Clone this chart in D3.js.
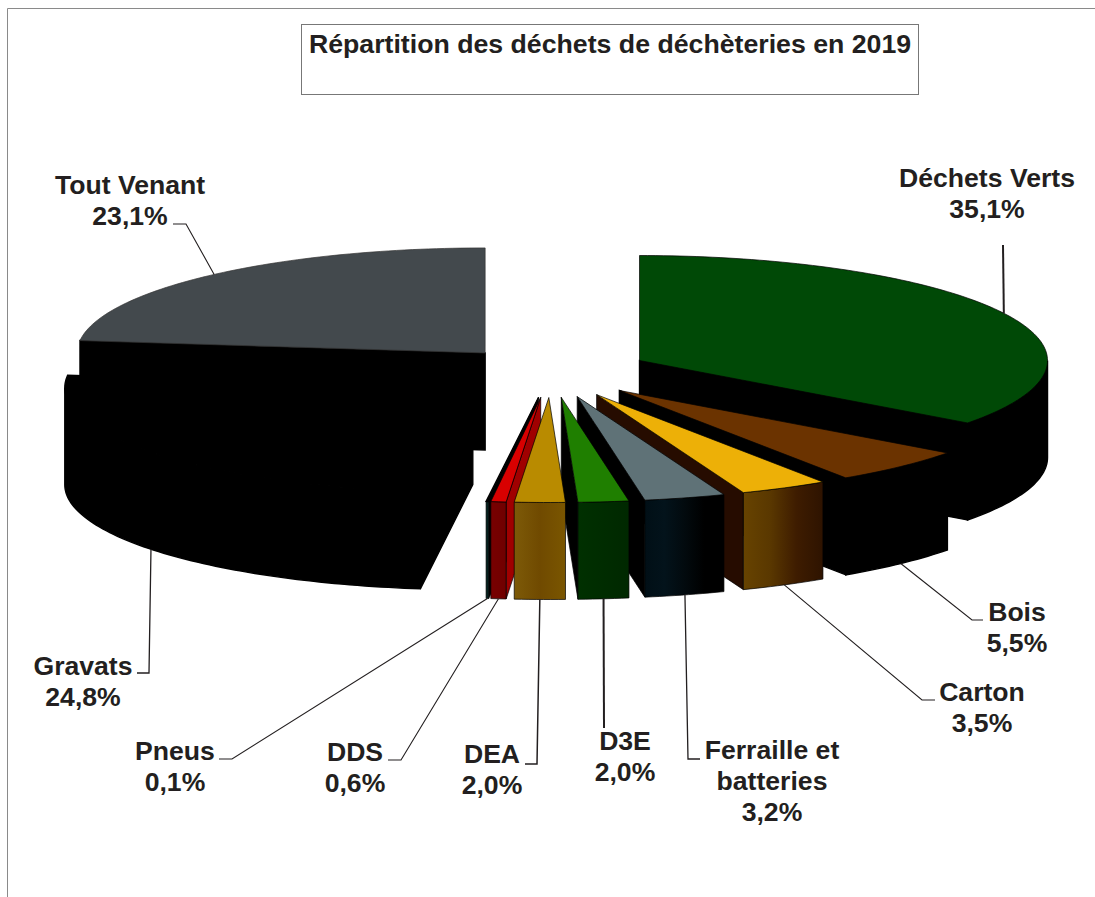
<!DOCTYPE html>
<html>
<head>
<meta charset="utf-8">
<script src="https://cdn.jsdelivr.net/npm/d3@7"></script>
<style>
    html, body { margin: 0; padding: 0; background: #fff; }
    svg { display: block; }
    text { font-family: "Liberation Sans", Arial, sans-serif; font-weight: bold; fill: #231f20; }
</style>
</head>
<body>
<div id="chart"></div>
<script>
const chartTitle = "Répartition des déchets de déchèteries en 2019";

const categories = ["Déchets Verts", "Bois", "Carton", "Ferraille et batteries", "D3E", "DEA", "DDS", "Pneus", "Gravats", "Tout Venant"];
const shares = [35.1, 5.5, 3.5, 3.2, 2.0, 2.0, 0.6, 0.1, 24.8, 23.1];

// top face, radial wall, outer wall gradient (left to right)
const topColors = ["#004906", "#6b3300", "#edb007", "#5f7277", "#1f7f00", "#b98b00", "#d80000", "#000000", "#000000", "#43494d"];
const wallColors = ["#000", "#000", "#260c00", "#000", "#000", "#000", "#a00000", "#000", "#000", "#000"];
const rimColors = [
    ["#000", "#000"], ["#000", "#000"], ["#674300", "#5a3800", "#3e1c00", "#2e1300"],
    ["#010f16", "#03131b", "#020a0e", "#000", "#000"], ["#003000", "#002800"], ["#7d5a08", "#704a00", "#7a5600"],
    ["#780000", "#700000"], ["#04211e", "#04211e"], ["#000", "#000"], ["#000", "#000"],
];

// label lines and the elbow of each leader, same order as categories
const labelLines = [["Déchets Verts"], ["Bois"], ["Carton"], ["Ferraille et", "batteries"], ["D3E"], ["DEA"], ["DDS"], ["Pneus"], ["Gravats"], ["Tout Venant"]];
const labelX = [987, 1017, 982, 772, 625, 492, 355, 175, 83, 130];
const labelY = [187, 621, 701, 759, 750, 763, 761, 760, 675, 194];
const elbows = [
    [[1003, 245]],
    [[972, 620], [983, 620]],
    [[922, 700], [935, 700]],
    [[688, 759], [700, 759]],
    [[604, 728]],
    [[537, 764], [525, 764]],
    [[401, 760], [388, 760]],
    [[232, 759], [219, 759]],
    [[149, 673], [137, 673]],
    [[186, 224], [173, 224]],
];
const leaderWidths = [2, 1.1, 1.1, 1.3, 2, 1.5, 1.1, 1.1, 1.3, 1.1];

const width = 1095, height = 897;
const cx = 551, cy = 372, rx = 408, ry = 105, depth = 97, explode = 0.243;
const lineHeight = 31;

const svg = d3.select("#chart").append("svg").attr("width", width).attr("height", height);
const defs = svg.append("defs");

// page and title frames
svg.append("path").attr("d", `M7.5,${height}V8.5H${width}`).attr("fill", "none").attr("stroke", "#8a8a8a").attr("stroke-width", 1);
svg.append("rect").attr("x", 301.5).attr("y", 24.5).attr("width", 617).attr("height", 70)
    .attr("fill", "#fff").attr("stroke", "#777").attr("stroke-width", 1);
svg.append("text").attr("x", 610).attr("y", 53).attr("text-anchor", "middle").style("font-size", "26.7px").text(chartTitle);

const xScale = d3.scaleLinear().domain([-1, 1]).range([cx - rx, cx + rx]);
const yScale = d3.scaleLinear().domain([-1, 1]).range([cy - ry, cy + ry]);

const pieLayout = d3.pie().sort(null).startAngle(0).endAngle(2 * Math.PI);
const slices = pieLayout(shares).map(function (d, i) {
    let mid = (d.startAngle + d.endAngle) / 2;
    return {
        i: i,
        start: d.startAngle,
        end: d.endAngle,
        mid: mid,
        ox: explode * Math.sin(mid),
        oy: -explode * Math.cos(mid),
    };
});

function project(s, a, r, drop) {
    return [
        xScale(s.ox + r * Math.sin(a)),
        yScale(s.oy - r * Math.cos(a)) + (drop || 0),
    ];
}

function arcPoints(s, a0, a1, drop) {
    let n = Math.max(2, Math.ceil((a1 - a0) / 0.02));
    return d3.range(n + 1).map((k) => project(s, a0 + ((a1 - a0) * k) / n, 1, drop));
}

const polygon = d3.line();

function radialWall(s, a) {
    return polygon([project(s, a, 0), project(s, a, 1), project(s, a, 1, depth), project(s, a, 0, depth)]) + "Z";
}

// back slices first, so nearer ones paint over them
const drawOrder = [9, 0, 1, 2, 3, 4, 8, 7, 6, 5];
const pieG = svg.append("g");

drawOrder.forEach(function (i) {
    let s = slices[i],
        g = pieG.append("g").attr("class", "slice"),
        // a wider stroke closes the hairline seams between all-black faces
        edge = wallColors[i] == "#000" && rimColors[i][0] == "#000" ? 1.4 : 0.7;

    // radial walls that face the viewer
    if (Math.sin(s.end) > 0) {
        g.append("path").attr("d", radialWall(s, s.end)).attr("fill", wallColors[i]).attr("stroke", "#000").attr("stroke-width", edge);
    }
    if (Math.sin(s.start) < 0) {
        g.append("path").attr("d", radialWall(s, s.start)).attr("fill", wallColors[i]).attr("stroke", "#000").attr("stroke-width", edge);
    }

    // outer wall, only the front half of the rim shows
    let a0 = Math.max(s.start, Math.PI / 2),
        a1 = Math.min(s.end, (3 * Math.PI) / 2);
    if (a1 > a0) {
        let grad = defs.append("linearGradient").attr("id", `rim-${i}`);
        grad.selectAll("stop")
            .data(rimColors[i])
            .enter()
            .append("stop")
            .attr("offset", (d, k) => k / (rimColors[i].length - 1))
            .attr("stop-color", (d) => d);
        let pts = arcPoints(s, a0, a1, 0).concat(arcPoints(s, a0, a1, depth).reverse());
        g.append("path").attr("d", polygon(pts) + "Z").attr("fill", `url(#rim-${i})`).attr("stroke", "#000").attr("stroke-width", edge);
    }

    // top face
    let top = [project(s, s.start, 0)].concat(arcPoints(s, s.start, s.end, 0));
    g.append("path").attr("d", polygon(top) + "Z").attr("fill", topColors[i]).attr("stroke", i == 9 ? "#333" : "#000").attr("stroke-width", i == 8 || i == 7 ? 1.4 : 0.7);
});

// leader lines start on the rim at the middle of each slice
slices.forEach(function (s) {
    let onFront = Math.cos(s.mid) < 0,
        start = project(s, s.mid, 1, onFront ? depth : 0);
    svg.append("path")
        .attr("d", polygon([start].concat(elbows[s.i])))
        .attr("fill", "none")
        .attr("stroke", "#231f20")
        .attr("stroke-width", leaderWidths[s.i]);
});

// labels: name lines, then the share with a French decimal comma
categories.forEach(function (c, i) {
    let t = svg.append("text").attr("text-anchor", "middle").style("font-size", "26.6px");
    labelLines[i].concat([d3.format(".1f")(shares[i]).replace(".", ",") + "%"]).forEach(function (line, k) {
        t.append("tspan").attr("x", labelX[i]).attr("y", labelY[i] + k * lineHeight).text(line);
    });
});
</script>
</body>
</html>
